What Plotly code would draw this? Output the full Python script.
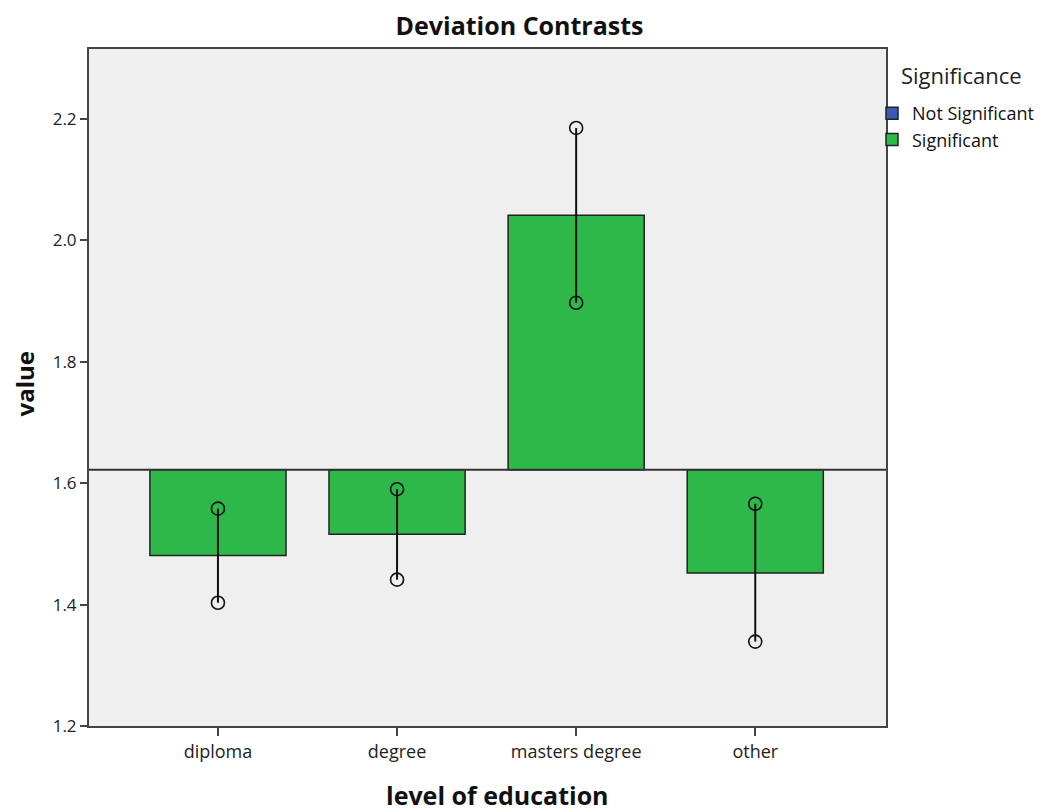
import plotly.graph_objects as go

categories = ["diploma", "degree", "masters degree", "other"]
baseline = 1.622
bar_values = [1.481, 1.516, 2.041, 1.452]
ci_upper = [1.558, 1.590, 2.185, 1.566]
ci_lower = [1.403, 1.441, 1.897, 1.339]
y_ticks = [1.2, 1.4, 1.6, 1.8, 2.0, 2.2]

FONT = "Open Sans"
GREEN = "#2fb84a"
BLUE = "#3a58b8"
DARK = "#222222"

# page body has an 8px margin, so the figure is drawn 8px smaller
W, H = 1041, 804
ML, MR, MT, MB = 81, 163, 41, 86

fig = go.Figure()

fig.add_trace(go.Bar(
    x=[categories[0]], y=[None], base=baseline, name="Not Significant",
    marker=dict(color=BLUE, line=dict(color=DARK, width=1.5)), width=0.76,
))
fig.add_trace(go.Bar(
    x=categories, y=[v - baseline for v in bar_values], base=baseline,
    name="Significant", width=0.76,
    marker=dict(color=GREEN, line=dict(color=DARK, width=1.5)),
))

xs, ys = [], []
for c, lo, hi in zip(categories, ci_lower, ci_upper):
    xs += [c, c, None]
    ys += [lo, hi, None]
fig.add_trace(go.Scatter(
    x=xs, y=ys, mode="lines+markers", showlegend=False,
    line=dict(color="#111111", width=2),
    marker=dict(symbol="circle-open", size=13, color="#111111", line=dict(width=1.6)),
))

fig.add_hline(y=baseline, line=dict(color="#333333", width=2.2))

plot_w = W - ML - MR
fig.update_layout(
    width=W, height=H,
    margin=dict(l=ML, r=MR, t=MT, b=MB, autoexpand=False),
    paper_bgcolor="white", plot_bgcolor="#efefef",
    barmode="overlay",
    font=dict(family=FONT, color="#222222", size=15),
    title=dict(text="<b>Deviation Contrasts</b>", x=511.5 / W, xref="container", xanchor="center",
               y=1 - 18 / H, yref="container", yanchor="middle",
               font=dict(family=FONT, size=25, color="#111111")),
    legend=dict(
        x=(864 - ML) / plot_w, xanchor="left", y=1 - 46 / (H - MT - MB), yanchor="top",
        bgcolor="rgba(0,0,0,0)", font=dict(size=18, family=FONT, color="#111111"),
        tracegroupgap=0,
    ),
    showlegend=True,
    annotations=[
        dict(text="Significance", xref="paper", yref="paper", x=1, y=1, xanchor="left", yanchor="middle",
             xshift=891 - ML - plot_w, yshift=-(67 - MT), showarrow=False,
             font=dict(size=22, family=FONT, color="#222222")),
        dict(text="<b>value</b>", xref="paper", yref="paper", x=0, y=0.5, xanchor="center", yanchor="middle",
             xshift=16 - ML, yshift=3, textangle=-90, showarrow=False,
             font=dict(size=24, family=FONT, color="#111111")),
        dict(text="<b>level of education</b>", xref="paper", yref="paper", x=0.5, y=0, xanchor="center",
             yanchor="middle", xshift=9.5, yshift=-69, showarrow=False,
             font=dict(size=25, family=FONT, color="#111111")),
    ],
)

fig.update_xaxes(
    range=[-0.72, 3.73], showgrid=False, zeroline=False,
    showline=True, linecolor="#444444", linewidth=2, mirror=True,
    ticks="outside", ticklen=8, tickwidth=2, tickcolor="#444444",
    tickfont=dict(size=18, family=FONT, color="#222222"),
)
fig.update_yaxes(
    range=[1.2, 2.315], showgrid=False, zeroline=False,
    showline=True, linecolor="#444444", linewidth=2, mirror=True,
    ticks="outside", ticklen=7, tickwidth=2, tickcolor="#444444",
    tickvals=y_ticks, tickformat=".1f",
    tickfont=dict(size=17, family=FONT, color="#222222"),
)

fig.write_html("out.html")
